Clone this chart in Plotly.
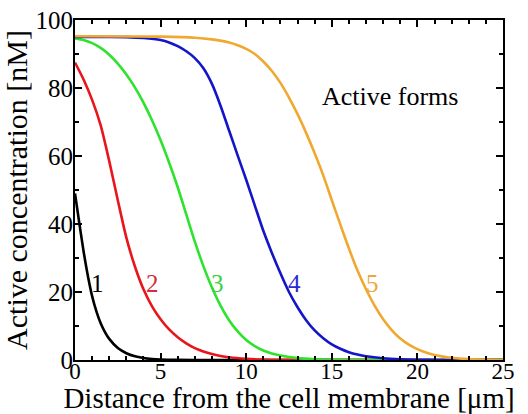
import plotly.graph_objects as go

# Distance from the cell membrane [um] and active concentration [nM]
x1 = [0, 0.25, 0.5, 0.75, 1, 1.25, 1.5, 1.75, 2, 2.5, 3, 3.5, 4, 4.5, 5, 6, 7, 25]
y1 = [49, 40.3, 32, 24.8, 18.8, 14.3, 10.8, 8.2, 6.2, 3.5, 2, 1.1, 0.6, 0.3, 0.15, 0.04, 0, 0]

x2 = [0, 0.5, 1, 1.5, 2, 2.5, 3, 3.5, 4, 4.5, 5, 5.5, 6, 6.5, 7, 7.5, 8, 8.5, 9, 10, 11, 12, 25]
y2 = [87.5, 82.5, 76.5, 69, 58.5, 47, 36, 27.5, 20.8, 15.8, 12, 9, 6.7, 4.9, 3.5, 2.5, 1.75, 1.2, 0.8, 0.35, 0.12, 0.03, 0]

x3 = [0, 0.5, 1, 1.5, 2, 2.5, 3, 3.5, 4, 4.5, 5, 5.5, 6, 6.5, 7, 7.5, 8, 8.5, 9, 9.5, 10, 10.5, 11, 11.5, 12, 13, 14, 15, 16, 25]
y3 = [94.6, 94.1, 93.2, 91.8, 89.8, 87.2, 84.0, 80.2, 75.7, 70.5, 64.6, 58.0, 50.8, 42.8, 34.8, 27.6, 21.3, 16.0, 11.7, 8.4, 5.9, 4.1, 2.8, 1.9, 1.3, 0.55, 0.22, 0.08, 0.02, 0]

x4 = [0, 2, 3, 4, 5, 5.5, 6, 6.5, 7, 7.5, 8, 8.5, 9, 9.5, 10, 10.5, 11, 11.5, 12, 12.5, 13, 13.5, 14, 14.5, 15, 15.5, 16, 16.5, 17, 18, 19, 20, 21, 25]
y4 = [95, 95, 94.95, 94.7, 94.1, 93.4, 92.3, 90.8, 88.8, 85.8, 81.2, 74.8, 67.5, 60.2, 53, 45.5, 38, 31.5, 25.5, 20, 15.5, 11.7, 8.7, 6.4, 4.6, 3.3, 2.3, 1.6, 1.1, 0.5, 0.2, 0.07, 0.02, 0]

x5 = [0, 5, 7, 8, 9, 9.5, 10, 10.5, 11, 11.5, 12, 12.5, 13, 13.5, 14, 14.5, 15, 15.5, 16, 16.5, 17, 17.5, 18, 18.5, 19, 19.5, 20, 20.5, 21, 21.5, 22, 23, 24, 25]
y5 = [95.2, 95.1, 94.8, 94.3, 93.4, 92.6, 91.5, 90, 87.8, 85, 81.5, 77.2, 72.3, 66.8, 60.8, 54.3, 47, 39.8, 32.8, 26.3, 20.8, 16, 12, 8.8, 6.3, 4.5, 3.2, 2.2, 1.5, 1, 0.65, 0.25, 0.08, 0.02]

curve_names = ["1", "2", "3", "4", "5"]
curve_x = [x1, x2, x3, x4, x5]
curve_y = [y1, y2, y3, y4, y5]
curve_colors = ["#000000", "#e8151b", "#2ee22e", "#1414c8", "#f0a830"]
label_colors = ["#000000", "#d0303a", "#3cd040", "#2a2ad0", "#eba83a"]
label_pos = [(1.32, 22.6), (4.53, 22.6), (8.33, 22.6), (12.84, 22.6), (17.4, 22.6)]

FONT = "Liberation Serif"

fig = go.Figure()
for name, xs, ys, col in zip(curve_names, curve_x, curve_y, curve_colors):
    fig.add_trace(go.Scatter(x=xs, y=ys, mode="lines", name=name,
                             line=dict(color=col, width=2.6, shape="spline", smoothing=0.7),
                             showlegend=False))

for name, (lx, ly), lc in zip(curve_names, label_pos, label_colors):
    fig.add_annotation(x=lx, y=ly, text=name, showarrow=False,
                       font=dict(family=FONT, size=25, color=lc))

fig.add_annotation(x=18.4, y=77.4, text="Active forms", showarrow=False,
                   font=dict(family=FONT, size=26, color="#000000"))

axis_common = dict(
    showline=True, linecolor="black", linewidth=2, mirror="allticks",
    ticks="inside", ticklen=7, tickwidth=1.5, tickcolor="black",
    showgrid=False, zeroline=False, automargin=False,
)

fig.update_xaxes(range=[0, 25], dtick=5, tick0=0, ticklabelstandoff=-11,
                 tickfont=dict(family=FONT, size=23, color="black"),
                 minor=dict(dtick=1, ticklen=4, tickwidth=1.5, ticks="inside", tickcolor="black"),
                 title=dict(text="Distance from the cell membrane [\u03bcm]",
                            font=dict(family=FONT, size=29, color="black"), standoff=0),
                 **axis_common)
fig.update_yaxes(range=[0, 100], dtick=20, tick0=0, ticklabelstandoff=-5,
                 tickfont=dict(family=FONT, size=25, color="black"),
                 minor=dict(dtick=10, ticklen=4, tickwidth=1.5, ticks="inside", tickcolor="black"),
                 title=dict(text="Active concentration [nM]",
                            font=dict(family=FONT, size=30, color="black"), standoff=0),
                 **axis_common)

fig.update_layout(
    width=528, height=414,
    margin=dict(l=75, r=25, t=20, b=54),
    paper_bgcolor="white", plot_bgcolor="white",
)

fig.write_html("out.html", config={"displayModeBar": False},
               post_script="document.body.style.margin='0';document.body.style.padding='0';document.body.style.overflow='hidden';")
